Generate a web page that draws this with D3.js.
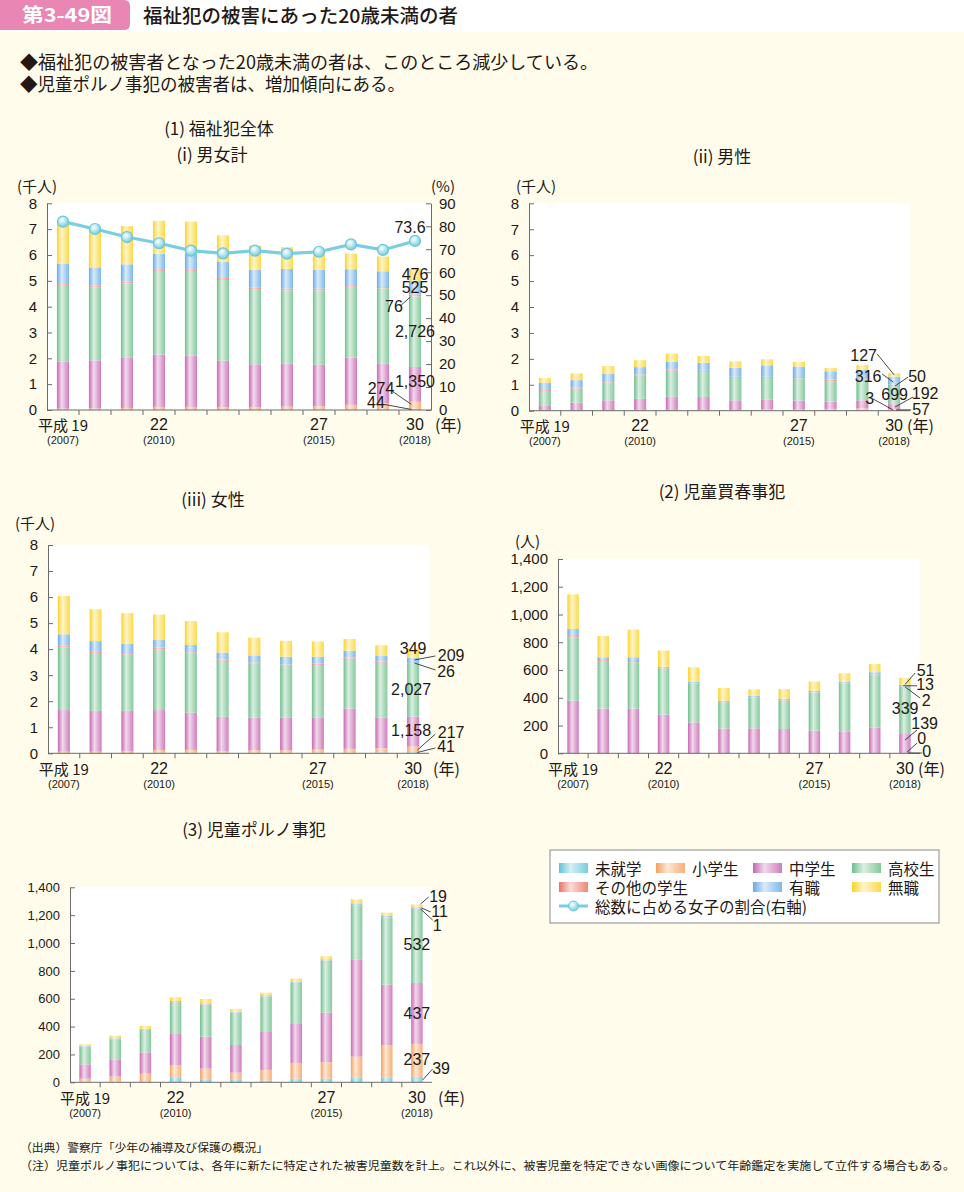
<!DOCTYPE html>
<html><head><meta charset="utf-8">
<script src="https://cdn.jsdelivr.net/npm/d3@7"></script>
<style>body{margin:0;background:#fff;}svg{display:block;}</style>
</head><body>
<svg id="c" width="964" height="1192"></svg>
<script>
// ---------- DATA ----------
const years = ['19','20','21','22','23','24','25','26','27','28','29','30'];
const yearLabelIdx = [0, 3, 8, 11];
const yearLabelMain = ['平成 19', '22', '27', '30'];
const yearLabelSub = ['(2007)', '(2010)', '(2015)', '(2018)'];
const seriesNames = ['未就学','小学生','中学生','高校生','その他の学生','有職','無職'];
const seriesColors = ['#5ec3d8','#f5a15e','#c866b3','#6fbf8c','#ec7262','#66aae6','#fbd32a'];

// (1)(i) 男女計 (persons)
const allPreschool = [10,10,10,20,20,20,20,20,20,30,40,44];
const allElementary = [40,50,70,100,100,80,80,110,120,170,220,274];
const allJunior = [1820,1860,1960,2030,1980,1810,1670,1660,1610,1830,1530,1350];
const allHigh = [2970,2830,2860,3230,3280,3120,2910,2840,2880,2740,2920,2726];
const allOtherStudent = [70,60,70,70,70,80,70,70,70,70,50,76];
const allEmployed = [740,710,670,600,600,630,680,760,720,610,610,525];
const allUnemployed = [1610,1560,1480,1270,1240,1020,930,840,780,610,570,476];
const femaleShare = [82.0,78.8,75.3,72.6,69.4,68.2,69.4,68.1,68.9,72.1,69.7,73.6];

// (1)(ii) 男性
const malePreschool = [2,5,5,5,5,5,5,5,5,5,5,3];
const maleElementary = [8,15,15,25,25,25,25,45,35,65,85,57];
const maleJunior = [200,290,380,430,510,500,370,370,350,280,310,192];
const maleHigh = [550,540,690,890,1000,960,860,840,860,790,810,699];
const maleOtherStudent = [40,50,50,50,50,50,50,50,50,60,40,50];
const maleEmployed = [280,280,290,280,300,310,350,440,400,320,340,316];
const maleUnemployed = [180,260,290,270,310,260,240,230,180,130,170,127];

// (1)(iii) 女性
const femalePreschool = [10,10,10,20,20,20,20,20,20,20,30,41];
const femaleElementary = [50,50,80,110,110,70,100,100,120,150,160,217];
const femaleJunior = [1600,1570,1540,1530,1430,1310,1250,1250,1240,1550,1190,1158];
const femaleHigh = [2410,2220,2160,2320,2260,2150,2070,1990,2010,1910,2090,2027];
const femaleOtherStudent = [70,70,60,80,60,50,50,50,50,50,50,26];
const femaleEmployed = [430,390,350,290,280,270,270,300,270,260,240,209];
const femaleUnemployed = [1470,1220,1180,980,920,780,680,610,580,450,390,349];

// (2) 児童買春事犯
const prostPreschool = [0,0,0,0,0,0,0,0,0,0,0,0];
const prostElementary = [0,0,0,0,0,0,0,0,0,0,0,0];
const prostJunior = [379,322,322,279,223,178,180,175,163,158,185,139];
const prostHigh = [457,343,334,333,277,189,223,207,274,344,379,339];
const prostOtherStudent = [9,7,9,3,3,2,2,2,2,2,3,2];
const prostEmployed = [51,20,27,9,13,10,8,10,12,12,17,13];
const prostUnemployed = [250,153,199,116,104,92,48,69,65,60,60,51];

// (3) 児童ポルノ事犯
const pornPreschool = [5,6,8,31,22,17,12,26,26,36,36,39];
const pornElementary = [21,35,54,93,76,52,77,113,118,148,230,237];
const pornJunior = [103,124,153,223,230,199,272,280,356,699,435,437];
const pornHigh = [127,139,161,227,229,232,254,294,373,388,479,532];
const pornOtherStudent = [1,2,2,3,3,2,2,2,2,3,3,1];
const pornEmployed = [6,10,5,7,7,5,8,8,8,11,11,11];
const pornUnemployed = [10,19,21,26,31,19,18,21,22,29,24,19];

// ---------- DRAW ----------
const JP = "'Noto Sans CJK JP', sans-serif";
const NUM = "'Liberation Sans', 'Noto Sans', sans-serif";
const NARROW = "'Liberation Sans Narrow', 'Liberation Sans', sans-serif";
const TXT = '#231815';
const AX = '#6b6b6b';

const svg = d3.select('#c');
svg.append('rect').attr('width', 964).attr('height', 1192).attr('fill', '#fffcec');
svg.append('rect').attr('width', 964).attr('height', 32).attr('fill', '#ffffff');

// gradients
const defs = svg.append('defs');
seriesColors.forEach((c, i) => {
  const g = defs.append('linearGradient').attr('id', 'g' + i).attr('x1', 0).attr('x2', 1).attr('y1', 0).attr('y2', 0);
  const light = d3.interpolateRgb(c, '#ffffff')(0.75);
  g.append('stop').attr('offset', 0).attr('stop-color', c);
  g.append('stop').attr('offset', 0.4).attr('stop-color', light);
  g.append('stop').attr('offset', 1).attr('stop-color', d3.interpolateRgb(c, '#ffffff')(0.15));
});
const rg = defs.append('radialGradient').attr('id', 'dot').attr('cx', 0.4).attr('cy', 0.35).attr('r', 0.65);
rg.append('stop').attr('offset', 0).attr('stop-color', '#ffffff');
rg.append('stop').attr('offset', 1).attr('stop-color', '#72cde0');

// header
svg.append('path').attr('d', 'M0,0 H124 Q130,0 130,6 V24 Q130,30 124,30 H0 Z').attr('fill', '#ea86b3');
svg.append('text').attr('x', 22).attr('y', 22).attr('font-family', JP).attr('font-weight', 700)
  .attr('font-size', 19).attr('fill', '#fff').attr('textLength', 90).attr('lengthAdjust', 'spacingAndGlyphs').text('第3-49図');
svg.append('text').attr('x', 143).attr('y', 23).attr('font-family', JP).attr('font-weight', 500)
  .attr('font-size', 19).attr('fill', TXT).attr('textLength', 315).attr('lengthAdjust', 'spacingAndGlyphs')
  .text('福祉犯の被害にあった20歳未満の者');

svg.append('text').attr('x', 20).attr('y', 69).attr('font-family', JP).attr('font-size', 18).attr('fill', TXT)
  .attr('textLength', 578).attr('lengthAdjust', 'spacingAndGlyphs')
  .text('◆福祉犯の被害者となった20歳未満の者は、このところ減少している。');
svg.append('text').attr('x', 20).attr('y', 91).attr('font-family', JP).attr('font-size', 18).attr('fill', TXT)
  .attr('textLength', 385).attr('lengthAdjust', 'spacingAndGlyphs')
  .text('◆児童ポルノ事犯の被害者は、増加傾向にある。');

function title(t, cx, y) {
  svg.append('text').attr('x', cx).attr('y', y).attr('font-family', JP).attr('font-size', 17)
    .attr('text-anchor', 'middle').attr('fill', TXT).attr('dominant-baseline', 'central').text(t);
}
title('(1) 福祉犯全体', 219, 127);
title('(i) 男女計', 212, 153);
title('(ii) 男性', 722, 155);
title('(iii) 女性', 213, 498);
title('(2) 児童買春事犯', 722, 490);
title('(3) 児童ポルノ事犯', 254, 828);

function stackChart(cfg) {
  const g = svg.append('g');
  const x = d3.scaleBand().domain(years).range(cfg.xr).paddingInner(0.62).paddingOuter(0.31);
  const y = d3.scaleLinear().domain([0, cfg.ymax]).range(cfg.yr);
  g.append('rect').attr('x', cfg.xr[0]).attr('y', cfg.yr[1]).attr('width', cfg.xr[1] - cfg.xr[0])
    .attr('height', cfg.yr[0] - cfg.yr[1]).attr('fill', '#fff');

  const rows = years.map((yr, i) => {
    const o = { year: yr };
    cfg.data.forEach((arr, s) => o['s' + s] = arr[i]);
    return o;
  });
  const stack = d3.stack().keys(cfg.data.map((d, s) => 's' + s))(rows);
  stack.forEach((layer, s) => {
    g.append('g').selectAll('rect').data(layer).join('rect')
      .attr('x', d => x(d.data.year))
      .attr('width', x.bandwidth())
      .attr('y', d => y(d[1]))
      .attr('height', d => Math.max(0, y(d[0]) - y(d[1])))
      .attr('fill', `url(#g${s})`);
  });

  // axes
  const left = g.append('g').attr('transform', `translate(${cfg.xr[0]},0)`)
    .call(d3.axisLeft(y).tickValues(cfg.ticks).tickFormat(cfg.fmt).tickSizeInner(-5).tickSizeOuter(0).tickPadding(10));
  left.select('.domain').attr('stroke', AX);
  left.selectAll('.tick line').attr('stroke', AX);
  left.selectAll('.tick text').attr('font-family', NUM).attr('font-size', cfg.tickFs).attr('fill', TXT);

  if (cfg.right) {
    const y2 = d3.scaleLinear().domain([0, 90]).range(cfg.yr);
    const right = g.append('g').attr('transform', `translate(${cfg.xr[1]},0)`)
      .call(d3.axisRight(y2).tickValues(d3.range(0, 91, 10)).tickSizeInner(-5).tickSizeOuter(0).tickPadding(8));
    right.select('.domain').attr('stroke', AX);
    right.selectAll('.tick line').attr('stroke', AX);
    right.selectAll('.tick text').attr('font-family', NUM).attr('font-size', cfg.tickFs).attr('fill', TXT);
    const line = d3.line().x((d, i) => x(years[i]) + x.bandwidth() / 2).y(d => y2(d));
    g.append('path').attr('d', line(cfg.right)).attr('fill', 'none').attr('stroke', '#79cfe1').attr('stroke-width', 3.2);
    g.append('g').selectAll('circle').data(cfg.right).join('circle')
      .attr('cx', (d, i) => x(years[i]) + x.bandwidth() / 2).attr('cy', d => y2(d)).attr('r', 5.5)
      .attr('fill', 'url(#dot)').attr('stroke', '#6ac6db').attr('stroke-width', 1.2);
    const last = cfg.right.length - 1;
    g.append('text').attr('x', x(years[last]) + x.bandwidth() / 2 - 5).attr('y', y2(cfg.right[last]) - 13)
      .attr('text-anchor', 'middle').attr('dominant-baseline', 'central').attr('font-family', NARROW)
      .attr('font-size', 16).attr('fill', TXT).text(d3.format('.1f')(cfg.right[last]));
  }

  // bottom axis
  g.append('line').attr('x1', cfg.xr[0]).attr('x2', cfg.xr[1]).attr('y1', cfg.yr[0]).attr('y2', cfg.yr[0]).attr('stroke', AX);
  const step = x.step();
  years.slice(0, -1).forEach((yr, i) => {
    const tx = x(yr) + x.bandwidth() + (step - x.bandwidth()) / 2;
    g.append('line').attr('x1', tx).attr('x2', tx).attr('y1', cfg.yr[0]).attr('y2', cfg.yr[0] + 5).attr('stroke', AX);
  });
  yearLabelIdx.forEach((idx, k) => {
    const cx = x(years[idx]) + x.bandwidth() / 2;
    g.append('text').attr('x', cx).attr('y', cfg.yLab).attr('text-anchor', 'middle').attr('dominant-baseline', 'central')
      .attr('font-family', k === 0 ? JP : NARROW).attr('font-size', k === 0 ? 15 : 16).attr('fill', TXT).text(yearLabelMain[k]);
    g.append('text').attr('x', cx).attr('y', cfg.yLab + 15.5).attr('text-anchor', 'middle').attr('dominant-baseline', 'central')
      .attr('font-family', NARROW).attr('font-size', 11).attr('fill', TXT).text(yearLabelSub[k]);
  });
  g.append('text').attr('x', cfg.nenX).attr('y', cfg.yLab).attr('dominant-baseline', 'central')
    .attr('font-family', JP).attr('font-size', 16).attr('fill', TXT).text('(年)');
  if (cfg.unit) g.append('text').attr('x', cfg.unit[1]).attr('y', cfg.unit[2]).attr('dominant-baseline', 'central')
    .attr('font-family', JP).attr('font-size', 15).attr('fill', TXT).text(cfg.unit[0]);
  if (cfg.unit2) g.append('text').attr('x', cfg.unit2[1]).attr('y', cfg.unit2[2]).attr('dominant-baseline', 'central')
    .attr('font-family', JP).attr('font-size', 15).attr('fill', TXT).text(cfg.unit2[0]);

  // annotations on last bar
  const li = years.length - 1;
  const bc = x(years[li]) + x.bandwidth() / 2;
  cfg.ann.forEach(a => {
    const seg = stack[a.s][li];
    const my = y((seg[0] + seg[1]) / 2);
    if (a.l) {
      g.append('line').attr('x1', bc + a.l[0]).attr('y1', my + a.l[1]).attr('x2', bc + a.l[2]).attr('y2', my + a.l[3])
        .attr('stroke', '#333').attr('stroke-width', 0.9);
    }
    g.append('text').attr('x', bc + a.t[0]).attr('y', my + a.t[1]).attr('text-anchor', 'middle')
      .attr('dominant-baseline', 'central').attr('font-family', NARROW).attr('font-size', 16).attr('fill', TXT)
      .text(d3.format(',')(cfg.data[a.s][li]));
  });
}

const thou = v => v / 1000;

stackChart({
  data: [allPreschool, allElementary, allJunior, allHigh, allOtherStudent, allEmployed, allUnemployed],
  xr: [47, 431], yr: [410, 203.3], ymax: 8000, ticks: d3.range(0, 8001, 1000), fmt: thou, tickFs: 15,
  right: femaleShare, yLab: 424, nenX: 435, unit: ['(千人)', 17, 185], unit2: ['(%)', 431, 185],
  ann: [
    { s: 6, t: [0, 0] }, { s: 5, t: [0, 0] },
    { s: 4, t: [-21, 11.5], l: [-13.7, 9.5, -4.7, 1.5] },
    { s: 3, t: [0, 0] }, { s: 2, t: [0, -3] },
    { s: 1, t: [-34, -17], l: [-22.7, -14, -3.7, -1] },
    { s: 0, t: [-39, -7], l: [-30.7, -5, -3.7, 0] }
  ]
});

stackChart({
  data: [malePreschool, maleElementary, maleJunior, maleHigh, maleOtherStudent, maleEmployed, maleUnemployed],
  xr: [529, 910], yr: [410.7, 203.3], ymax: 8000, ticks: d3.range(0, 8001, 1000), fmt: thou, tickFs: 15,
  yLab: 425, nenX: 907, unit: ['(千人)', 516, 185],
  ann: [
    { s: 6, t: [-30.5, -19], l: [-17, -21, 0, 0] },
    { s: 5, t: [-26, -3.7], l: [-12, -6.7, -1, 1.3] },
    { s: 4, t: [23, -8.4], l: [14, -8.4, 1, 0.6] },
    { s: 3, t: [0.5, -1] },
    { s: 2, t: [31, -12.7], l: [19, -9.7, 1, 0.3] },
    { s: 0, t: [-24.5, -11.7], l: [-21, -11.7, -1, -0.7] },
    { s: 1, t: [27, 0], l: [2, 0, 17, 0] }
  ]
});

stackChart({
  data: [femalePreschool, femaleElementary, femaleJunior, femaleHigh, femaleOtherStudent, femaleEmployed, femaleUnemployed],
  xr: [48, 429], yr: [753.3, 545], ymax: 8000, ticks: d3.range(0, 8001, 1000), fmt: thou, tickFs: 15,
  yLab: 768, nenX: 433, unit: ['(千人)', 15, 522],
  ann: [
    { s: 6, t: [0, -4] },
    { s: 5, t: [38, -4.3], l: [22.3, -4.3, 1.3, -0.3] },
    { s: 4, t: [33, 7.7], l: [22.3, 6.7, 1.3, -0.3] },
    { s: 3, t: [-2, -1] }, { s: 2, t: [-2, -1.5] },
    { s: 1, t: [38, -17.4], l: [22.3, -15.4, 4.3, 0.6] },
    { s: 0, t: [33, -5.8], l: [22.3, -4.8, 4.3, -0.3] }
  ]
});

stackChart({
  data: [prostPreschool, prostElementary, prostJunior, prostHigh, prostOtherStudent, prostEmployed, prostUnemployed],
  xr: [558, 920], yr: [753.3, 559], ymax: 1400, ticks: d3.range(0, 1401, 200), fmt: d3.format(','), tickFs: 15,
  yLab: 768, nenX: 918, unit: ['(人)', 515, 540],
  ann: [
    { s: 6, t: [20.7, -11.3], l: [10.2, -8.3, 0.2, 3] },
    { s: 5, t: [20.2, -0.8], l: [-1.8, 0, 12.2, 0] },
    { s: 4, t: [21.2, 13.2], l: [0.2, 0.2, 15.2, 11.2] },
    { s: 3, t: [0.2, -1.5] },
    { s: 2, t: [19.7, -19.7], l: [12.2, -13.7, 0.2, -3.7] },
    { s: 1, t: [16.7, -15.3], l: [12.2, -10.3, 2.2, -1.3] },
    { s: 0, t: [21.7, -2.3], l: [3.2, -0.3, 17.2, -0.3] }
  ]
});

stackChart({
  data: [pornPreschool, pornElementary, pornJunior, pornHigh, pornOtherStudent, pornEmployed, pornUnemployed],
  xr: [70, 432], yr: [1082.3, 887.3], ymax: 1400, ticks: d3.range(0, 1401, 200), fmt: d3.format(','), tickFs: 13,
  yLab: 1097, nenX: 438,
  ann: [
    { s: 6, t: [21.2, -8.9], l: [11.7, -8.9, 3.7, -1.9] },
    { s: 5, t: [22.7, 4], l: [13.7, 4, 4.7, 0] },
    { s: 4, t: [20.2, 16.2], l: [15.7, 11.2, 3.7, 0.2] },
    { s: 3, t: [0, -1] }, { s: 2, t: [0, 0] }, { s: 1, t: [0, -1] },
    { s: 0, t: [24.2, -10.6], l: [15.7, -10.6, 5.7, 0.4] }
  ]
});

// legend
const lg = svg.append('g');
lg.append('rect').attr('x', 550).attr('y', 850).attr('width', 389).attr('height', 73).attr('fill', '#fff').attr('stroke', '#8a8a8a');
const legendX = [559, 656, 753, 852];
const legendRowY = [868, 887];
const legendPos = [[0,0],[0,1],[0,2],[0,3],[1,0],[1,2],[1,3]];
seriesNames.forEach((n, i) => {
  const [r, c] = legendPos[i];
  lg.append('rect').attr('x', legendX[c]).attr('y', legendRowY[r] - 5).attr('width', 29).attr('height', 10).attr('fill', `url(#g${i})`);
  lg.append('text').attr('x', legendX[c] + 36).attr('y', legendRowY[r]).attr('dominant-baseline', 'central')
    .attr('font-family', JP).attr('font-size', 15.5).attr('fill', TXT).text(n);
});
lg.append('line').attr('x1', 559).attr('x2', 588).attr('y1', 906).attr('y2', 906).attr('stroke', '#79cfe1').attr('stroke-width', 3);
lg.append('circle').attr('cx', 573.5).attr('cy', 906).attr('r', 5).attr('fill', 'url(#dot)').attr('stroke', '#6ac6db');
lg.append('text').attr('x', 595).attr('y', 906).attr('dominant-baseline', 'central').attr('font-family', JP)
  .attr('font-size', 15.5).attr('fill', TXT).text('総数に占める女子の割合(右軸)');

// footer
svg.append('text').attr('x', 20).attr('y', 1147).attr('dominant-baseline', 'central').attr('font-family', JP)
  .attr('font-size', 11.5).attr('fill', TXT).attr('textLength', 248).attr('lengthAdjust', 'spacingAndGlyphs')
  .text('（出典）警察庁「少年の補導及び保護の概況」');
svg.append('text').attr('x', 20).attr('y', 1165).attr('dominant-baseline', 'central').attr('font-family', JP)
  .attr('font-size', 11.5).attr('fill', TXT).attr('textLength', 935).attr('lengthAdjust', 'spacingAndGlyphs')
  .text('（注）児童ポルノ事犯については、各年に新たに特定された被害児童数を計上。これ以外に、被害児童を特定できない画像について年齢鑑定を実施して立件する場合もある。');
</script>
</body></html>
